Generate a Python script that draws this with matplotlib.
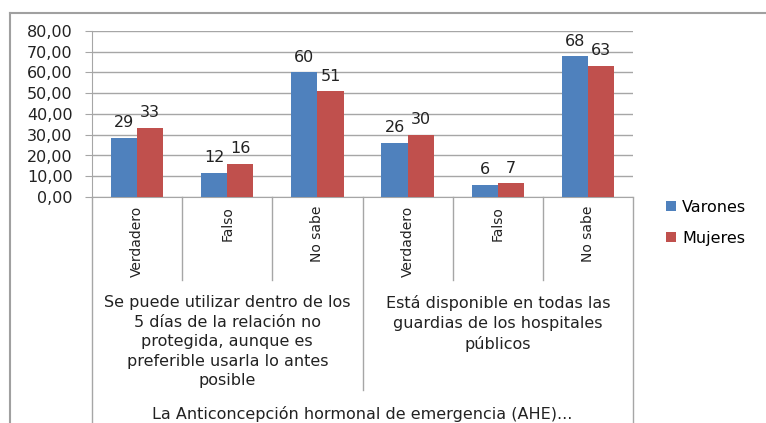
import matplotlib
matplotlib.use("Agg")
import matplotlib.pyplot as plt
from matplotlib.lines import Line2D
import numpy as np

plt.rcParams["font.family"] = ["DejaVu Sans"]

# data
answers = ["Verdadero", "Falso", "No sabe", "Verdadero", "Falso", "No sabe"]
statements = [
    "Se puede utilizar dentro de los\n5 días de la relación no\nprotegida, aunque es\npreferible usarla lo antes\nposible",
    "Está disponible en todas las\nguardias de los hospitales\npúblicos",
]
topic = "La Anticoncepción hormonal de emergencia (AHE)..."
varones = [28.6, 11.6, 60.1, 25.9, 5.8, 67.8]
mujeres = [33.3, 15.9, 50.9, 29.9, 6.6, 63.0]
series_names = ["Varones", "Mujeres"]
colors = ["#4F81BD", "#C0504D"]
yticks = np.arange(0, 81, 10)

W, H = 766, 423
fig = plt.figure(figsize=(W / 100, H / 100), dpi=100)

# plot area in pixels
px_left, px_right, px_top, px_bottom = 92, 633, 31, 197
ax = fig.add_axes([px_left / W, 1 - px_bottom / H,
                   (px_right - px_left) / W, (px_bottom - px_top) / H])


def yfrac(ypix):
    # pixel row -> axes fraction
    return (px_bottom - ypix) / (px_bottom - px_top)


txt = "#222222"
fs = 11.5

x = np.arange(len(answers))
bw = 0.29
for i, (vals, name, c) in enumerate(zip([varones, mujeres], series_names, colors)):
    pos = x + (i - 0.5) * bw
    ax.bar(pos, vals, width=bw, color=c, label=name, zorder=3)
    for xp, v in zip(pos, vals):
        ax.annotate(f"{v:.0f}", (xp, v), xytext=(0, 11), textcoords="offset points",
                    ha="center", va="center", fontsize=fs, color=txt)

ax.set_xlim(-0.5, len(answers) - 0.5)
ax.set_ylim(0, 80)
ax.set_yticks(yticks)
ax.set_yticklabels([f"{t:.2f}".replace(".", ",") for t in yticks], fontsize=fs)
ax.yaxis.grid(True, color="#A6A6A6", linewidth=1, zorder=0)
ax.set_xticks([])
ax.tick_params(axis="y", length=5, color="#A6A6A6", pad=9, labelcolor=txt)
for s in ["top", "right"]:
    ax.spines[s].set_visible(False)
ax.spines["left"].set_color("#A6A6A6")
ax.spines["bottom"].set_color("#A6A6A6")

# category axis: dividers and labels
tr = ax.get_xaxis_transform()
for xd in [0.5, 1.5, 3.5, 4.5]:
    ax.plot([xd, xd], [0, yfrac(280)], color="#A6A6A6", lw=1, transform=tr, clip_on=False)
ax.plot([2.5, 2.5], [0, yfrac(390)], color="#A6A6A6", lw=1, transform=tr, clip_on=False)
for xd in [-0.5, len(answers) - 0.5]:
    ax.plot([xd, xd], [0, yfrac(430)], color="#A6A6A6", lw=1, transform=tr, clip_on=False)

for xi, lab in zip(x, answers):
    ax.text(xi, yfrac(206), lab, rotation=90, ha="center", va="top",
            fontsize=10, color=txt, transform=tr)
for xi, lab in zip([1, 4], statements):
    ax.text(xi, yfrac(295), lab, ha="center", va="top", fontsize=fs,
            linespacing=1.38, color=txt, transform=tr)
ax.text(2.5, yfrac(414), topic, ha="center", va="center", fontsize=fs,
        color=txt, transform=tr)

ax.legend(loc="upper left", bbox_to_anchor=(666 / W, 1 - 200 / H),
          bbox_transform=fig.transFigure, frameon=False, fontsize=fs,
          handlelength=0.6, handleheight=0.6, handletextpad=0.4,
          labelspacing=1.0, borderpad=0, borderaxespad=0)

# outer chart frame
fig.add_artist(Line2D([10 / W, 10 / W], [0, 1 - 13 / H], color="#A0A0A0", lw=1.5,
                      transform=fig.transFigure))
fig.add_artist(Line2D([10 / W, 1], [1 - 13 / H, 1 - 13 / H], color="#A0A0A0", lw=1.5,
                      transform=fig.transFigure))

fig.savefig("out.png", dpi=100)
plt.close(fig)
